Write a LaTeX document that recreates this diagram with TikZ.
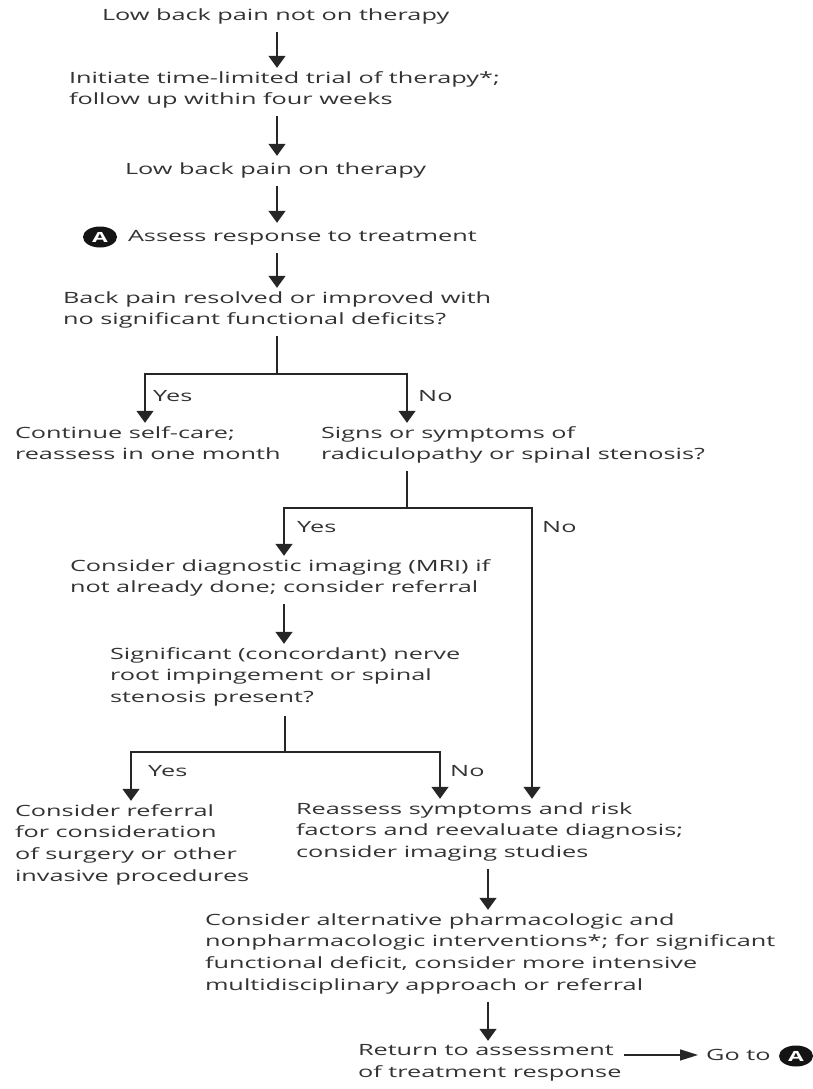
\documentclass[tikz,border=0pt]{standalone}
\usepackage{fontspec}
\setmainfont{Open Sans}[FakeStretch=1.63]
\usetikzlibrary{arrows.meta,shapes.geometric}
\definecolor{txt}{HTML}{333333}
\definecolor{lnc}{HTML}{262626}
\tikzset{
  box/.style={anchor=north west, inner sep=0pt, outer sep=0pt, align=left, text=txt,
    font=\fontsize{15.5pt}{21.7pt}\selectfont,
    execute at begin node=\strut, execute at end node=\strut},
  lbl/.style={anchor=base west, inner sep=0pt, text=txt, font=\fontsize{15.5pt}{21.7pt}\selectfont},
  ln/.style={draw=lnc, line width=1.5pt},
  arr/.style={ln, -{Triangle[length=12pt,width=17pt]}, shorten >=3.5pt},
  harr/.style={ln, -{Triangle[length=18pt,width=11pt]}},
  gap/.style={shorten <=5pt},
  badge/.style={ellipse, fill=black!92, inner sep=0pt, minimum width=34pt, minimum height=21pt,
    text=white, font=\fontsize{14pt}{14pt}\selectfont\bfseries}
}
\begin{document}
\begin{tikzpicture}[x=1pt,y=-1pt]
\useasboundingbox (0,0) rectangle (813,1089);
% column coordinates
\coordinate (c1) at (277,0);
\coordinate (c2) at (488,0);
\coordinate (xl1) at (145,0);
\coordinate (xr1) at (407,0);
\coordinate (xl2) at (284,0);
\coordinate (xr2) at (532,0);
\coordinate (xl3) at (131,0);
\coordinate (xr3) at (440,0);
\coordinate (b1) at (277,374);
\coordinate (b2) at (407,508);
\coordinate (b3) at (285,752);
% nodes (top = baseline - 15.19)
\node[box] (n1) at (102,5.3) {Low back pain not on therapy};
\node[box] (n2) at (69,71.3) {Initiate time-limited trial of therapy*;\\follow up within four weeks};
\node[box] (n3) at (125,159.3) {Low back pain on therapy};
\node[badge] (a1) at (100,237) {A};
\node[box] (n4) at (128,226.3) {Assess response to treatment};
\node[box] (n5) at (63,291.3) {Back pain resolved or improved with\\no significant functional deficits?};
\node[box] (n6) at (15,426.3) {Continue self-care;\\reassess in one month};
\node[box] (n7) at (321,426.3) {Signs or symptoms of\\radiculopathy or spinal stenosis?};
\node[box] (n8) at (70,559.3) {Consider diagnostic imaging (MRI) if\\not already done; consider referral};
\node[box] (n9) at (110,647.3) {Significant (concordant) nerve\\root impingement or spinal\\stenosis present?};
\node[box] (n10) at (15,804.3) {Consider referral\\for consideration\\of surgery or other\\invasive procedures};
\node[box] (n11) at (296,802.3) {Reassess symptoms and risk\\factors and reevaluate diagnosis;\\consider imaging studies};
\node[box] (n12) at (205,913.3) {Consider alternative pharmacologic and\\nonpharmacologic interventions*; for significant\\functional deficit, consider more intensive\\multidisciplinary approach or referral};
\node[box] (n13) at (358,1044.3) {Return to assessment\\of treatment response};
\node[lbl] (goto) at (706,1060.5) {Go to};
\node[badge] (a2) at (796,1056) {A};
% branch labels
\node[lbl] (y1) at (153,401.5) {Yes};
\node[lbl] (no1) at (418,401.5) {No};
\node[lbl] (y2) at (297,532.5) {Yes};
\node[lbl] (no2) at (542,532.5) {No};
\node[lbl] (y3) at (148,776.5) {Yes};
\node[lbl] (no3) at (450,776.5) {No};
% main column
\draw[arr,gap] (n1.south -| c1) -- (n2.north -| c1);
\draw[arr,gap] (n2.south -| c1) -- (n3.north -| c1);
\draw[arr,gap] (n3.south -| c1) -- (n4.north -| c1);
\draw[arr,gap] (n4.south -| c1) -- (n5.north -| c1);
% split 1
\draw[ln,gap] (n5.south -| b1) -- (b1);
\draw[arr] (b1) -| (n6.north -| xl1);
\draw[arr] (b1) -| (n7.north -| xr1);
% split 2
\draw[ln,gap] (n7.south -| b2) -- (b2);
\draw[arr] (b2) -| (n8.north -| xl2);
\draw[arr] (b2) -| (n11.north -| xr2);
\draw[arr,gap] (n8.south -| xl2) -- (n9.north -| xl2);
% split 3
\draw[ln,shorten <=6.5pt] (n9.south -| b3) -- (b3);
\draw[arr] (b3) -| (n10.north -| xl3);
\draw[arr] (b3) -| (n11.north -| xr3);
% lower column
\draw[arr,gap] (n11.south -| c2) -- (n12.north -| c2);
\draw[arr,gap] (n12.south -| c2) -- (n13.north -| c2);
\draw[harr,shorten <=3pt,shorten >=8pt] (n13.east |- goto.west) -- (goto.west);
\end{tikzpicture}
\end{document}
